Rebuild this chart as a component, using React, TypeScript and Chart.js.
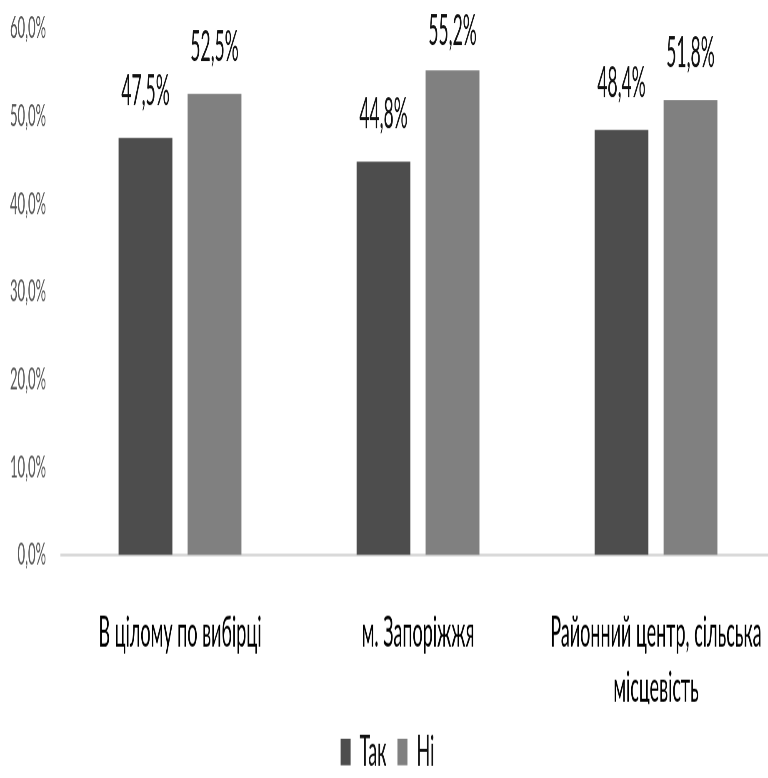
import React, { useEffect, useRef } from "react";
import { Chart, registerables } from "chart.js";

Chart.register(...registerables);

const categories: (string | string[])[] = [
  "В цілому по вибірці",
  "м. Запоріжжя",
  ["Районний центр, сільська", "місцевість"],
];
const seriesNames = ["Так", "Ні"];
const takValues = [47.5, 44.8, 48.4];
const niValues = [52.5, 55.2, 51.8];
const yMin = 0;
const yMax = 60;
const yStep = 10;

const colors = ["#4d4d4d", "#808080"];
const FONT = "Lato, 'Liberation Sans', sans-serif";
const K = 2.4; // vertical stretch
const LOGICAL_H = 332;
const LOGICAL_W = 800;

const fmt = (v: number) => v.toFixed(1).replace(".", ",") + "%";

const dataLabels = {
  id: "dataLabels",
  afterDatasetsDraw(chart: any) {
    const { ctx } = chart;
    ctx.save();
    ctx.font = `17.5px ${FONT}`;
    ctx.fillStyle = "#111";
    ctx.textAlign = "center";
    ctx.textBaseline = "alphabetic";
    chart.data.datasets.forEach((ds: any, i: number) => {
      chart.getDatasetMeta(i).data.forEach((bar: any, j: number) => {
        const y = Math.max(bar.y - 13.75, 18.75);
        ctx.fillText(fmt(ds.data[j]), bar.x, y);
      });
    });
    ctx.restore();
  },
};

export default function App() {
  const ref = useRef<HTMLCanvasElement>(null);
  useEffect(() => {
    if (!ref.current) return;
    const chart = new Chart(ref.current, {
      type: "bar",
      data: {
        labels: categories as any,
        datasets: [
          {
            label: seriesNames[0],
            data: takValues,
            backgroundColor: colors[0],
            categoryPercentage: 0.58,
            barPercentage: 0.78,
          },
          {
            label: seriesNames[1],
            data: niValues,
            backgroundColor: colors[1],
            categoryPercentage: 0.58,
            barPercentage: 0.78,
          },
        ],
      },
      options: {
        animation: false,
        responsive: true,
        maintainAspectRatio: false,
        devicePixelRatio: 2.4,
        layout: { padding: { top: 11.7, left: 0, right: 25, bottom: 0 } },
        plugins: {
          legend: {
            position: "bottom",
            align: "center",
            labels: {
              boxWidth: 10,
              boxHeight: 11,
              padding: 11,
              color: "#111",
              font: { family: FONT, size: 18 },
            },
          },
          tooltip: { enabled: false },
        },
        scales: {
          x: {
            grid: { display: false, drawTicks: false },
            border: { display: true, color: "#d9d9d9", width: 1.25 },
            ticks: {
              color: "#000",
              padding: 20.5,
              maxRotation: 0,
              autoSkip: false,
              font: { family: FONT, size: 18, lineHeight: 23.3 / 18 },
            },
            afterFit: (s: any) => {
              s.height = 62;
              s.paddingLeft = 0;
              s.paddingRight = 0;
            },
          },
          y: {
            min: yMin,
            max: yMax,
            grid: { display: false, drawTicks: false },
            border: { display: false },
            ticks: {
              stepSize: yStep,
              color: "#595959",
              padding: 15,
              font: { family: FONT, size: 13 },
              callback: (v: any) => fmt(Number(v)),
            },
            afterFit: (s: any) => {
              s.width = 61;
              s.paddingTop = 0;
              s.paddingBottom = 0;
            },
          },
        },
      },
      plugins: [dataLabels],
    });
    return () => chart.destroy();
  }, []);

  return (
    <div
      style={{
        position: "fixed",
        left: 0,
        top: 0,
        width: 768,
        height: 778,
        overflow: "hidden",
        background: "#fff",
      }}
    >
      <div
        style={{
          width: LOGICAL_W,
          height: LOGICAL_H,
          transform: `scaleY(${K})`,
          transformOrigin: "0 0",
        }}
      >
        <canvas ref={ref} />
      </div>
    </div>
  );
}
